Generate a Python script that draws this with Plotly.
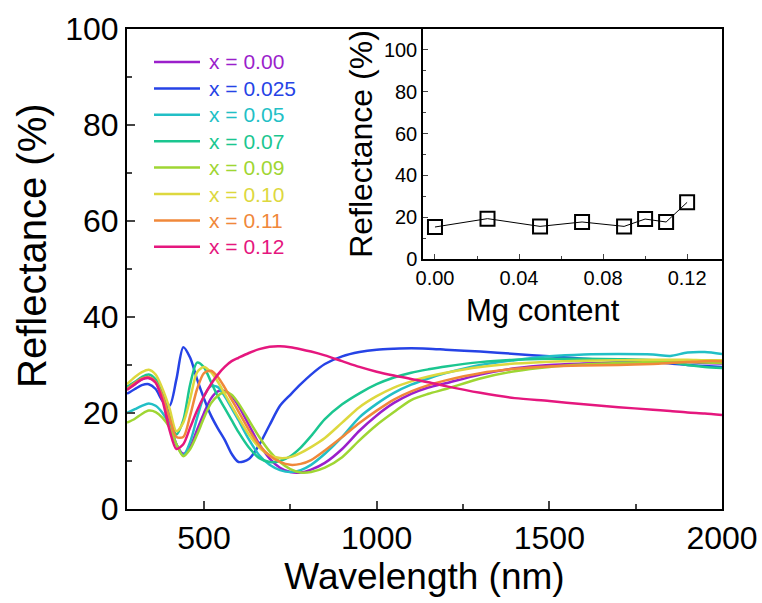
import plotly.graph_objects as go

wl = [277, 300, 320, 340, 360, 380, 400, 420, 440, 460, 480, 500, 520, 540, 560, 580, 600, 630, 660, 690,
      720, 750, 780, 810, 850, 900, 950, 1000, 1050, 1100, 1150, 1200, 1300, 1400, 1500, 1600, 1700, 1800,
      1850, 1900, 1950, 2000]

r_000 = [25, 26, 27, 27.3, 26.5, 23, 18, 13.5, 11.5, 13, 16.5, 20, 23, 24.5, 24.6, 23.5, 21.5, 17.5, 13.5, 10.5,
         8.6, 7.7, 7.6, 8.2, 9.6, 12.5, 16.3, 19.5, 22.1, 24, 25.3, 26.2, 28, 29.3, 30, 30.3, 30.5, 30.6,
         30.7, 30.6, 30.4, 30.3]
r_025 = [24, 25, 25.8, 26, 25, 22.5, 21.5, 27, 33.7, 31.5, 27, 23, 19.5, 16.8, 14.4, 11.5, 9.8, 10.4, 13.4, 17.5,
         21.5, 23.8, 26, 28, 30.2, 31.8, 32.7, 33.2, 33.4, 33.5, 33.4, 33.2, 32.8, 32.3, 31.8, 31.3, 30.9, 30.6,
         30.3, 30.0, 29.8, 29.6]
r_050 = [20, 20.8, 21.5, 22, 21.5, 20, 17.5, 13.5, 11.2, 14, 19, 23.5, 25.6, 25.4, 23.5, 21, 18.5, 14.5, 11.2, 9.2,
         8.1, 7.7, 8.1, 9.2, 11.5, 15, 19.1, 21.9, 24.2, 25.9, 27.2, 28.3, 30, 31, 31.8, 32.2, 32.3, 32.2,
         31.9, 32.6, 32.7, 32.3]
r_070 = [25.5, 26.5, 27.5, 28, 27, 24, 19.5, 15.5, 18.5, 26, 30.5, 29.5, 26.5, 23.5, 21, 18.5, 16, 12.8, 10.6, 9.8,
         10.0, 11.0, 12.8, 15.2, 18.7, 21.8, 24.1, 26, 27.4, 28.4, 29.1, 29.7, 30.6, 31.1, 31.3, 31.3, 31.2, 31.0,
         30.6, 30.0, 29.6, 29.4]
r_090 = [18, 18.8, 19.8, 20.5, 20.2, 19, 17, 13.5, 11, 12.5, 15.5, 19, 22, 23.6, 24.4, 23.8, 22, 18.5, 15, 12,
         9.8, 8.3, 7.6, 7.7, 8.6, 10.8, 14.3, 17.5, 20.2, 22.7, 24, 25, 27.2, 28.7, 29.6, 30.1, 30.4, 30.6,
         30.7, 30.6, 30.5, 30.4]
r_100 = [26, 27.5, 28.5, 29, 28, 25, 21, 16.2, 18, 23, 28.5, 29.6, 28.5, 26.5, 24, 21.5, 19, 15.5, 12.8, 11.2,
         10.6, 10.8, 11.7, 12.9, 14.8, 18, 21.2, 23.5, 25.3, 26.6, 27.6, 28.4, 29.6, 30.3, 30.7, 30.9, 31, 31.1,
         31.1, 31.1, 31, 31]
r_110 = [25, 26.3, 27.2, 27.5, 26.5, 23.5, 19, 15, 15, 19.5, 25, 28.3, 28.8, 27.5, 25.3, 22.8, 20.3, 16.5, 13.3, 11.1,
         9.8, 9.2, 9.4, 10.2, 12.2, 15, 17.9, 20.5, 22.8, 24.5, 25.8, 26.8, 28.3, 29.2, 29.7, 29.9, 30, 30.2,
         30.4, 30.6, 30.8, 30.8]
r_120 = [24.8, 26, 27, 27.3, 26.3, 22.5, 16.5, 12.5, 13.5, 17, 20.5, 23.5, 26, 28, 29.6, 30.8, 31.5, 32.5, 33.3, 33.8,
         33.9, 33.7, 33.3, 32.8, 32, 30.8, 29.6, 28.6, 27.8, 27.1, 26.4, 25.6, 24.2, 23.1, 22.5, 21.8, 21.2, 20.7,
         20.4, 20.1, 19.9, 19.6]

series_labels = ["x = 0.00", "x = 0.025", "x = 0.05", "x = 0.07", "x = 0.09", "x = 0.10", "x = 0.11", "x = 0.12"]
series_values = [r_000, r_025, r_050, r_070, r_090, r_100, r_110, r_120]
series_colors = ["#9B1FCB", "#2643E6", "#22BFC6", "#1BC690", "#9FD633", "#DDD83E", "#F0883A", "#E5177E"]

mg_content = [0.0, 0.025, 0.05, 0.07, 0.09, 0.10, 0.11, 0.12]
mg_reflectance = [15.3, 19.3, 15.6, 17.7, 15.6, 19.1, 17.7, 27.1]

FONT = "Liberation Sans, Arial, sans-serif"

W, H = 762, 603
# plot area in window pixels
L, R, T, B = 127, 722, 29, 509
def px(xp):
    return (xp - L) / (R - L)
def py(yp):
    return (B - yp) / (B - T)

fig = go.Figure()
for lab, vals, col in zip(series_labels, series_values, series_colors):
    fig.add_trace(go.Scatter(
        x=wl, y=vals, mode="lines", line=dict(color=col, width=2.5, shape="spline", smoothing=0.8),
        name=lab, showlegend=False, xaxis="x", yaxis="y"))

fig.add_trace(go.Scatter(
    x=mg_content, y=mg_reflectance, mode="lines+markers",
    line=dict(color="black", width=1),
    marker=dict(symbol="square-open", size=14, color="black", line=dict(width=2)),
    showlegend=False, xaxis="x2", yaxis="y2"))

# legend (line samples + coloured labels)
shapes = []
annotations = []
for i, (lab, col) in enumerate(zip(series_labels, series_colors)):
    yc = 62 + 26.4 * i
    shapes.append(dict(type="line", xref="paper", yref="paper", x0=px(154), x1=px(200), y0=py(yc), y1=py(yc),
                       line=dict(color=col, width=2.5)))
    annotations.append(dict(text=lab, xref="paper", yref="paper", x=px(207), y=py(yc), xanchor="left",
                            yanchor="middle", showarrow=False, font=dict(size=21, color=col, family=FONT)))

annotations.append(dict(text="Reflectance (%)", xref="paper", yref="paper", x=px(32), y=py(246),
                        xanchor="center", yanchor="middle", textangle=-90, showarrow=False,
                        font=dict(size=40, color="black", family=FONT)))
annotations.append(dict(text="Mg content", xref="paper", yref="paper", x=px(543), y=py(310),
                        xanchor="center", yanchor="middle", showarrow=False,
                        font=dict(size=31, color="black", family=FONT)))

fig.update_layout(
    width=W, height=H,
    margin=dict(l=L, r=W - R, t=T, b=H - B),
    paper_bgcolor="white", plot_bgcolor="white",
    font=dict(family=FONT, color="black"),
    showlegend=False,
    shapes=shapes, annotations=annotations,
    xaxis=dict(domain=[0, 1], range=[277, 2000], tickvals=[500, 1000, 1500, 2000], automargin=False,
               ticks="inside", ticklen=8, tickwidth=1.5, showline=True, linewidth=2, linecolor="black",
               mirror=True, showgrid=False, zeroline=False,
               minor=dict(tickvals=[750, 1250, 1750], ticks="inside", ticklen=5, tickwidth=1.5),
               tickfont=dict(size=32), title=dict(text="Wavelength (nm)", font=dict(size=37), standoff=6)),
    yaxis=dict(domain=[0, 1], range=[0, 100], tickvals=[0, 20, 40, 60, 80, 100], automargin=False,
               ticks="inside", ticklen=8, tickwidth=1.5, showline=True, linewidth=2, linecolor="black",
               mirror=True, showgrid=False, zeroline=False,
               minor=dict(tickvals=[10, 30, 50, 70, 90], ticks="inside", ticklen=5, tickwidth=1.5),
               tickfont=dict(size=32)),
    xaxis2=dict(domain=[px(423), 1], anchor="y2", range=[-0.0057, 0.1366], tickvals=[0, 0.04, 0.08, 0.12],
                ticktext=["0.00", "0.04", "0.08", "0.12"], automargin=False,
                ticks="inside", ticklen=5, tickwidth=1, showline=True, linewidth=1.5, linecolor="black",
                mirror=False, showgrid=False, zeroline=False,
                minor=dict(tickvals=[0.02, 0.06, 0.10], ticks="inside", ticklen=3, tickwidth=1),
                tickfont=dict(size=20)),
    yaxis2=dict(domain=[py(259), 1], anchor="x2", range=[0, 110], tickvals=[0, 20, 40, 60, 80, 100],
                automargin=False,
                ticks="inside", ticklen=5, tickwidth=1, showline=True, linewidth=1.5, linecolor="black",
                mirror=False, showgrid=False, zeroline=False,
                minor=dict(tickvals=[10, 30, 50, 70, 90], ticks="inside", ticklen=3, tickwidth=1),
                tickfont=dict(size=20), title=dict(text="Reflectance (%)", font=dict(size=32), standoff=2)),
)

fig.write_html("out.html", config={"displayModeBar": False},
               post_script="document.body.style.margin='0';document.body.style.overflow='hidden';")
